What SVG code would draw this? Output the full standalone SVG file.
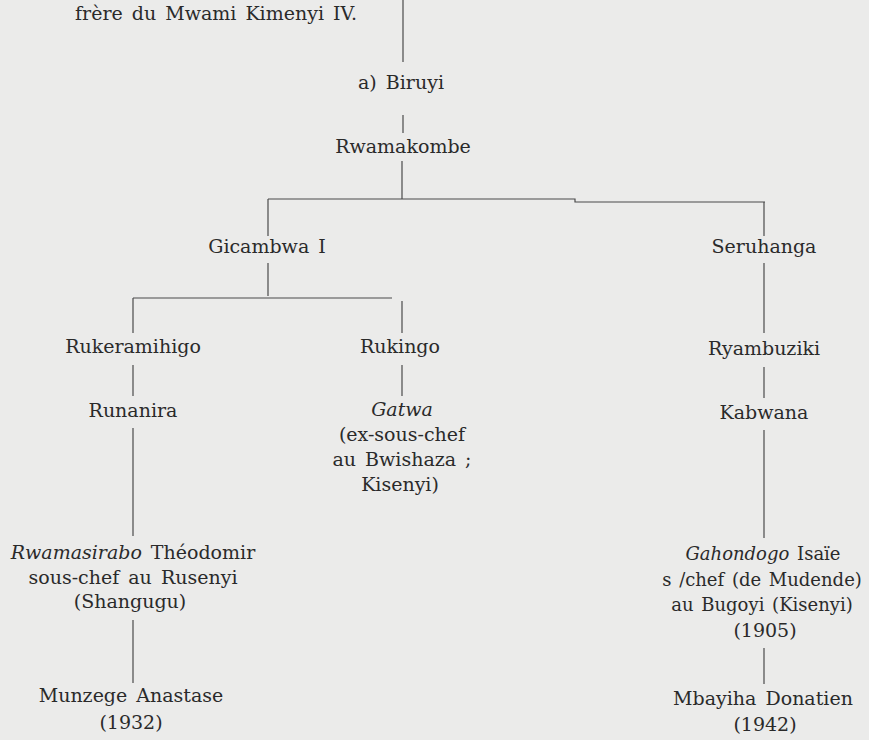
<svg xmlns="http://www.w3.org/2000/svg" width="869" height="740" viewBox="0 0 869 740">
<style>
text{font-family:"DejaVu Serif","Liberation Serif",serif;font-size:19px;fill:#2a2a2a;text-anchor:middle;word-spacing:3px}
.i{font-style:italic}
.s{font-size:18px;word-spacing:2px}
line,polyline{stroke:#4a4a4a;stroke-width:1.2;fill:none}
</style>
<rect width="869" height="740" fill="#ebebea"/>
<g id="connectors">
<line x1="403" y1="0" x2="403" y2="62"/>
<line x1="403" y1="115" x2="403" y2="133"/>
<line x1="402" y1="161" x2="402" y2="199"/>
<polyline points="268,199 575,199 575,202 765,202"/>
<line x1="268" y1="199" x2="268" y2="236"/>
<line x1="764" y1="202" x2="764" y2="236"/>
<line x1="268" y1="263" x2="268" y2="296"/>
<line x1="133" y1="298" x2="392" y2="298"/>
<line x1="133" y1="298" x2="133" y2="333"/>
<line x1="402" y1="301" x2="402" y2="333"/>
<line x1="764" y1="263" x2="764" y2="333"/>
<line x1="133" y1="365" x2="133" y2="396"/>
<line x1="402" y1="365" x2="402" y2="396"/>
<line x1="764" y1="367" x2="764" y2="398"/>
<line x1="133" y1="428" x2="133" y2="536"/>
<line x1="764" y1="430" x2="764" y2="538"/>
<line x1="133" y1="620" x2="133" y2="683"/>
<line x1="764" y1="648" x2="764" y2="684"/>
</g>
<g id="n-frere"><text x="216" y="20">frère du Mwami Kimenyi IV.</text></g>
<g id="n-biruyi"><text x="401" y="89">a) Biruyi</text></g>
<g id="n-rwamakombe"><text x="403" y="153">Rwamakombe</text></g>
<g id="n-gicambwa"><text x="267" y="253">Gicambwa I</text></g>
<g id="n-seruhanga"><text x="764" y="253">Seruhanga</text></g>
<g id="n-rukeramihigo"><text x="133" y="353">Rukeramihigo</text></g>
<g id="n-rukingo"><text x="400" y="353">Rukingo</text></g>
<g id="n-ryambuziki"><text x="764" y="355">Ryambuziki</text></g>
<g id="n-runanira"><text x="133" y="417">Runanira</text></g>
<g id="n-gatwa"><text x="402" y="416" class="i">Gatwa</text><text x="402" y="441">(ex-sous-chef</text><text x="402" y="466">au Bwishaza ;</text><text x="400" y="491">Kisenyi)</text></g>
<g id="n-kabwana"><text x="764" y="419">Kabwana</text></g>
<g id="n-rwamasirabo"><text x="133" y="559"><tspan class="i">Rwamasirabo</tspan> Théodomir</text><text x="133" y="584">sous-chef au Rusenyi</text><text x="130" y="608">(Shangugu)</text></g>
<g id="n-munzege"><text x="131" y="702">Munzege Anastase</text><text x="131" y="729">(1932)</text></g>
<g id="n-gahondogo"><text x="763" y="560" class="s"><tspan class="i">Gahondogo</tspan> Isaïe</text><text x="762" y="586" class="s">s /chef (de Mudende)</text><text x="762" y="611" class="s">au Bugoyi (Kisenyi)</text><text x="765" y="637">(1905)</text></g>
<g id="n-mbayiha"><text x="763" y="705">Mbayiha Donatien</text><text x="765" y="731">(1942)</text></g>
</svg>
